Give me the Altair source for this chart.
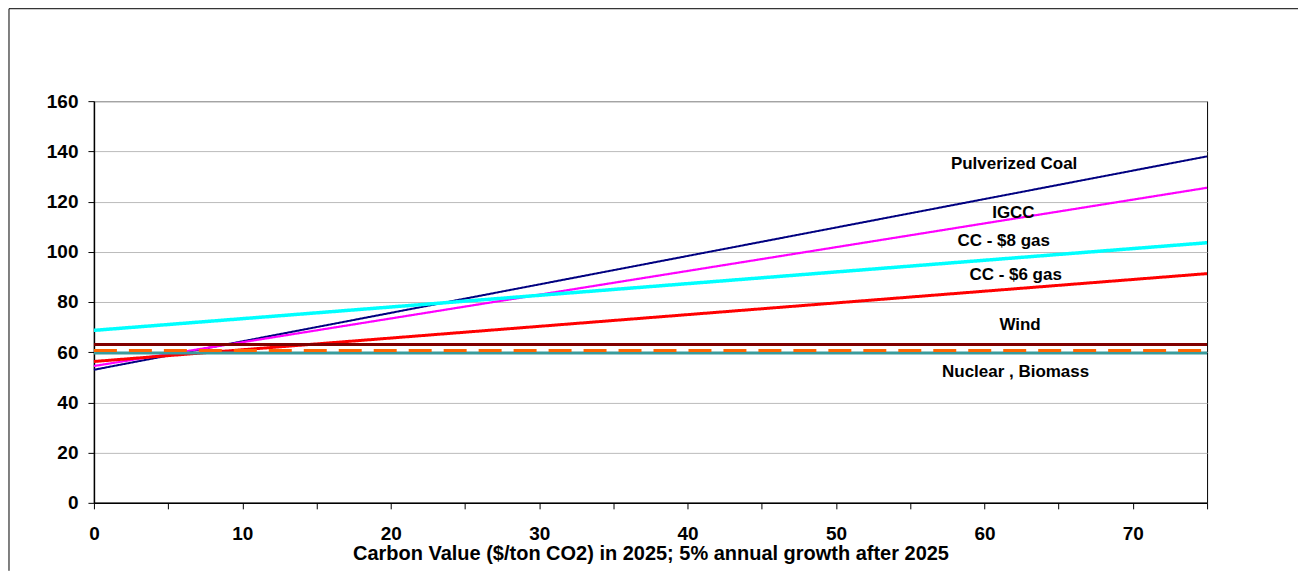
import altair as alt
import pandas as pd

# ---- data ----
series = ["Pulverized Coal", "IGCC", "CC - $8 gas", "CC - $6 gas", "Wind", "Nuclear", "Biomass"]
carbon_x = [0, 75]
cost_at_0 = [53.0, 54.5, 68.7, 56.3, 63.1, 59.7, 60.7]
cost_at_75 = [138.0, 125.5, 103.6, 91.3, 63.1, 59.7, 60.7]
colors = ["#000080", "#FF00FF", "#00FFFF", "#FF0000", "#800000", "#3A9C9C", "#FF6600"]
widths = [2, 2.2, 3.5, 3, 3, 3, 3]
dashes = [[1, 0], [1, 0], [1, 0], [1, 0], [1, 0], [1, 0], [23, 12]]

label_text = ["Pulverized Coal", "IGCC", "CC - $8 gas", "CC - $6 gas", "Wind", "Nuclear , Biomass"]
label_x = [62.0, 61.95, 61.3, 62.1, 62.4, 62.1]
label_y = [135.1, 115.4, 104.1, 90.7, 70.8, 52.1]

x_ticks = list(range(0, 80, 5))
y_ticks = list(range(0, 180, 20))

rows = []
for s, a, b, w, d in zip(series, cost_at_0, cost_at_75, widths, dashes):
    rows.append({"series": s, "carbon": carbon_x[0], "cost": a, "w": w, "dash": d})
    rows.append({"series": s, "carbon": carbon_x[1], "cost": b, "w": w, "dash": d})
df = pd.DataFrame(rows)
labels_df = pd.DataFrame({"text": label_text, "x": label_x, "y": label_y})

FONT = "Liberation Sans"

x_enc = alt.X(
    "carbon:Q",
    scale=alt.Scale(domain=[0, 75], nice=False),
    axis=alt.Axis(
        values=x_ticks,
        labelExpr="datum.value % 10 === 0 ? datum.label : ''",
        title="Carbon Value ($/ton CO2) in 2025; 5% annual growth after 2025",
        grid=False,
        tickSize=6,
        labelPadding=16,
        titlePadding=0,
        labelFlush=False,
    ),
)
y_enc = alt.Y(
    "cost:Q",
    scale=alt.Scale(domain=[0, 160], nice=False),
    axis=alt.Axis(values=y_ticks, title=None, grid=True, tickSize=6, labelPadding=10, labelFlush=False),
)

lines = alt.Chart(df).mark_line().encode(
    x=x_enc,
    y=y_enc,
    color=alt.Color("series:N", scale=alt.Scale(domain=series, range=colors), legend=None),
    strokeWidth=alt.StrokeWidth("w:Q", scale=None, legend=None),
    strokeDash=alt.StrokeDash("dash", scale=None, legend=None),
    detail="series:N",
)

labels = alt.Chart(labels_df).mark_text(
    font=FONT, fontWeight="bold", fontSize=17, align="center", baseline="middle", color="black"
).encode(x="x:Q", y="y:Q", text="text:N")

one = pd.DataFrame({"a": [0]})
border_top = alt.Chart(one).mark_rule(color="black", strokeWidth=1).encode(
    x=alt.value(-85), x2=alt.value(1205), y=alt.value(-92.5)
)
border_left = alt.Chart(one).mark_rule(color="black", strokeWidth=1).encode(
    x=alt.value(-85), y=alt.value(-92.5), y2=alt.value(470)
)

chart = (
    alt.layer(lines, labels, border_top, border_left)
    .properties(width=1114, height=402, padding=0)
    .configure_view(stroke="black", strokeWidth=1)
    .configure_axis(
        labelFont=FONT,
        labelFontWeight="bold",
        labelFontSize=19,
        labelColor="black",
        titleFont=FONT,
        titleFontWeight="bold",
        titleFontSize=20,
        titleColor="black",
        domainColor="black",
        domainWidth=1.5,
        tickColor="black",
        tickWidth=1,
        gridColor="#BBBBBB",
        gridWidth=1,
    )
)

chart.save("out.html", embed_options={"renderer": "svg", "actions": False})
